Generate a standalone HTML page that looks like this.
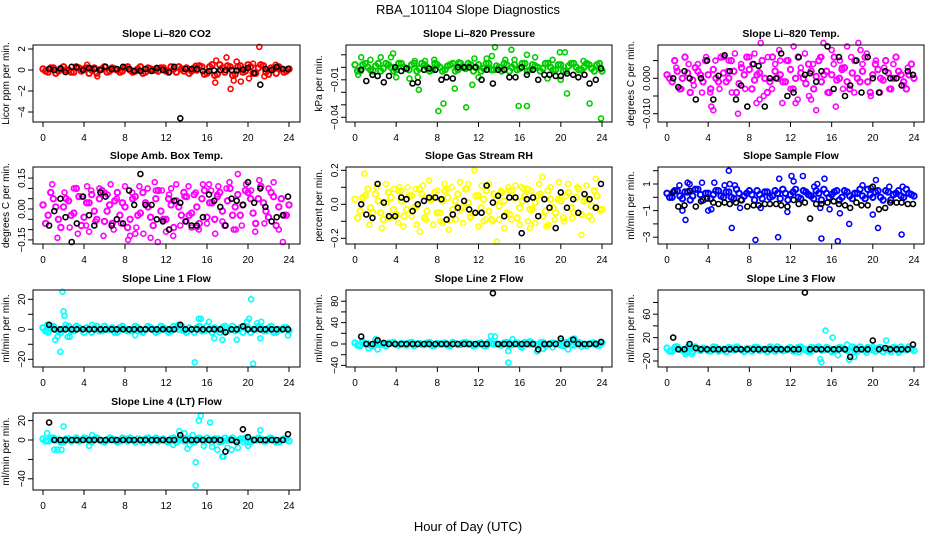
<!DOCTYPE html>
<html><head><meta charset="utf-8"><style>
html,body{margin:0;padding:0;background:#fff;}
svg{display:block;font-family:"Liberation Sans",sans-serif;}
</style></head><body>
<svg id="chart" width="936" height="540" viewBox="0 0 936 540" xmlns="http://www.w3.org/2000/svg">
<rect width="936" height="540" fill="#fff"/>
<text x="468" y="14" font-size="13" text-anchor="middle">RBA_101104  Slope Diagnostics</text>
<text x="468" y="531" font-size="13" text-anchor="middle">Hour of Day (UTC)</text>
</svg>
<script>
const bandHours=[0,0.5,1,1.5,2,2.5,3,3.5,4,4.5,5,5.5,6,6.5,7,7.5,8,8.5,9,9.5,10,10.5,11,11.5,12,12.5,13,13.5,14,14.5,15,15.5,16,16.5,17,17.5,18,18.5,19,19.5,20,20.5,21,21.5,22,22.5,23,23.5,24];
const bandHours2=[0.25,0.75,1.25,1.75,2.25,2.75,3.25,3.75,4.25,4.75,5.25,5.75,6.25,6.75,7.25,7.75,8.25,8.75,9.25,9.75,10.25,10.75,11.25,11.75,12.25,12.75,13.25,13.75,14.25,14.75,15.25,15.75,16.25,16.75,17.25,17.75,18.25,18.75,19.25,19.75,20.25,20.75,21.25,21.75,22.25,22.75,23.25,23.75];
const blackHours=[0.6,1.1,1.7,2.2,2.8,3.3,3.9,4.5,5.0,5.6,6.1,6.7,7.2,7.8,8.4,8.9,9.5,10.0,10.6,11.1,11.7,12.3,12.8,13.4,13.9,14.5,15.0,15.6,16.2,16.7,17.3,17.8,18.4,18.9,19.5,20.0,20.6,21.2,21.7,22.3,22.8,23.4,23.9];
const scatterHours=[0.9,1.4,2.1,2.6,3.0,3.4,3.8,4.2,4.5,4.7,5.1,5.5,5.9,6.3,6.6,6.9,7.2,7.6,8.0,8.3,8.7,9.1,9.4,9.8,10.2,10.5,10.9,11.2,11.6,12.0,12.3,12.7,13.0,13.4,13.8,14.2,14.5,14.9,15.2,15.6,16.0,16.4,16.8,17.1,17.5,17.9,18.2,18.6,19.0,19.4,19.8,20.3,20.7,21.1,21.6,22.0,22.5,23.0,23.4,6.0,9.0,12.5,15.0,17.0,4.3,8.5,11.0,14.0,16.2,18.8];

const co2Band=[0.1,-0.2,0.2,-0.1,0.3,0,-0.2,0.2,0.1,-0.3,0.2,0,0.3,-0.1,0.1,-0.2,0.2,0,-0.1,0.3,-0.2,0.1,0,0.2,-0.1,0.3,-0.2,0.1,0.2,-0.1,0,0.3,-0.3,0.5,-0.4,0.2,0.4,-0.5,0.3,-0.2,0.5,-0.3,0.2,0.4,-0.4,0.1,0.3,-0.2,0.1];
const co2Band2=[-0.1,0.2,-0.3,0.1,0,-0.2,0.3,-0.1,0.2,0,-0.3,0.1,-0.2,0.2,0,-0.1,0.3,-0.2,0.1,-0.3,0.2,0,-0.1,0.2,-0.2,0.1,0.3,-0.1,-0.3,0.2,0.4,-0.4,0.3,-0.5,0.5,-0.2,0.3,-0.4,0.4,-0.1,0.3,-0.3,0.5,-0.2,0.2,-0.3,0.1,-0.1];
const co2OutX=[5.3,4.3,16.8,16.9,17.9,18.3,18.6,18.9,19.3,20.5,21.1,21.6,14.9,20.1,22.7];
const co2OutY=[-0.6,0.5,-1.2,0.9,1.2,-1.8,-1.0,0.8,-1.1,0.6,2.2,-0.6,0.4,-0.8,0.5];
const co2Black=[0.1,0,0.15,-0.2,0.3,0.25,0,0.2,0.1,0,0.3,0.1,0.1,0.3,0.1,-0.1,-0.1,0.1,-0.1,0.2,0,-0.2,0.3,-4.6,0.1,0.1,0.1,-0.1,-0.1,-0.05,0,0,0,-0.05,0.05,0.2,-0.3,-1.4,0.1,0,0.3,0.1,0.1];

const presBand=[0.002,-0.003,0.003,-0.002,0.001,-0.003,0.003,0,-0.002,0.003,-0.001,0.002,-0.003,0.003,0,-0.002,0.002,-0.003,0.001,0.003,-0.002,0,0.003,-0.003,0.002,-0.001,0.003,-0.002,0,0.003,-0.003,0.002,-0.001,0.003,-0.002,0.001,-0.003,0.003,0,-0.002,0.002,-0.003,0.003,0,-0.002,0.003,-0.001,0.002,-0.003];
const presBand2=[-0.003,0.002,0,-0.003,0.003,-0.001,0.002,-0.003,0.003,0,-0.002,0.003,-0.001,0.002,-0.003,0.003,0,-0.002,0.002,-0.003,0.003,-0.001,0.002,0,-0.003,0.003,-0.002,0.001,-0.003,0.002,0,-0.002,0.003,-0.003,0.002,0,-0.001,0.003,-0.002,0.002,-0.003,0.001,0.003,-0.002,0,0.002,-0.003,0.003];
const presOutX=[0.3,0.6,1.5,2.5,3.5,3.7,4.0,5.3,5.8,6.2,6.1,6.8,7.7,8.1,8.6,9.7,10.1,10.8,11.4,11.6,12.0,12.8,13.3,13.6,14.6,15.2,15.5,15.9,16.7,16.7,17.5,18.7,19.2,19.9,20.4,20.6,20.0,22.2,22.8,23.9];
const presOutY=[-0.006,0.008,0.006,0.008,0.008,0.011,-0.008,-0.009,0.005,-0.018,-0.008,0.005,0.006,-0.035,-0.029,-0.017,0.004,-0.032,-0.014,0.007,-0.008,0.007,0.009,0.016,0.006,0.014,0.006,-0.031,-0.031,0.010,0.008,-0.009,0.006,0.012,0.012,-0.021,-0.010,0.005,-0.029,-0.041];
const presBlack=[-0.002,-0.011,-0.006,-0.007,-0.012,-0.007,0.000,-0.003,-0.001,-0.013,-0.012,-0.002,-0.001,-0.002,-0.010,-0.008,-0.009,0.000,0.000,0.000,0.000,-0.010,-0.002,-0.013,-0.002,-0.002,-0.008,-0.008,0.000,-0.006,-0.002,-0.010,-0.006,-0.006,-0.007,-0.007,-0.005,-0.006,-0.008,-0.006,-0.013,-0.010,-0.001];

const tempBand=[0.001,-0.001,0.002,0,0.0015,-0.0005,0.002,-0.001,0.001,0.0025,-0.001,0.0015,0,0.002,-0.0015,0.001,0.0025,-0.0005,0.0015,0,-0.001,0.002,0.001,-0.001,0.0025,0,0.0015,-0.0015,0.002,0.0005,-0.001,0.002,0.001,-0.0005,0.0025,-0.001,0.0015,0,0.002,-0.001,0.001,0.0025,-0.0005,0.0015,0,0.002,-0.001,0.001,0];
const tempBand2=[0,0.005,-0.003,0.006,-0.004,0.003,0.001,0.005,-0.003,0,0.006,-0.001,0.005,-0.004,0.003,0.006,-0.003,0.001,0.005,-0.004,0.006,0,-0.001,0.005,-0.003,0.006,0,0.004,-0.003,0.005,0.001,-0.004,0.006,0,0.003,-0.003,0.005,-0.001,0.006,-0.004,0.004,0,0.005,-0.003,0.006,0.001,-0.003,0.004];
const tempScatter=[0.003,-0.003,0.004,-0.002,0.004,-0.004,0.006,-0.004,-0.009,0.005,-0.003,0.006,0.002,-0.004,0.007,-0.010,0.004,-0.003,0.006,0.004,-0.007,0.010,-0.005,0.006,-0.003,0.004,0.008,-0.007,0.005,-0.003,0.009,-0.006,0.003,0.007,-0.005,0.004,-0.009,0.006,0.010,-0.004,0.008,-0.008,0.005,-0.003,0.009,0.006,-0.004,0.010,0.004,0.007,-0.005,0.005,-0.004,0.003,-0.003,0.004,0.002,-0.002,0.003,0.005,-0.006,-0.007,0.006,0.003,-0.008,0.007,0.005,-0.006,0.004,0.008];
const tempBlack=[0,-0.0025,0.002,0,-0.006,0,0.005,-0.006,0.0007,0.0065,0.002,-0.006,-0.002,-0.008,0.004,0.0035,-0.008,0,0,0.007,-0.005,-0.004,0.006,0.001,0.0014,-0.001,0.002,0.009,-0.003,0.006,-0.005,-0.002,0.005,-0.004,0.006,0,-0.004,0.002,0,0,-0.002,0.002,0.001];

const ambBand=[0.02,-0.03,0.05,-0.05,0.01,0.04,-0.02,0.06,-0.04,0.03,-0.01,0.05,-0.06,0.02,0.04,-0.03,0.01,-0.05,0.06,-0.02,0.03,-0.04,0.05,-0.01,-0.05,0.02,0.04,-0.03,0.06,-0.02,0.01,0.05,-0.04,0.03,0.06,-0.01,0.04,-0.03,0.07,0.02,0.08,-0.02,0.05,0.03,-0.04,0.06,0.01,-0.03,0.02];
const ambBand2=[-0.07,0.08,0.01,-0.09,0.05,-0.03,0.1,-0.08,0.03,0.07,-0.05,0.09,-0.01,-0.07,0.08,0.03,-0.09,0.05,-0.03,0.08,0.01,-0.08,0.09,-0.05,0.05,-0.09,0.01,0.08,-0.03,0.07,-0.07,0.09,0.03,-0.05,0.08,-0.08,0.1,0.01,-0.03,0.09,0.05,-0.07,0.11,-0.01,0.08,-0.08,0.05,-0.03];
const ambScatter=[0.12,-0.14,0.08,-0.09,0.1,-0.12,0.06,-0.08,-0.11,0.09,-0.06,0.1,-0.13,0.07,0.12,-0.1,0.05,-0.07,0.11,-0.15,0.08,-0.09,0.11,-0.12,0.1,-0.14,0.13,-0.16,0.09,-0.11,0.07,-0.13,0.12,-0.08,0.06,0.11,-0.09,0.08,-0.1,0.12,-0.07,0.09,-0.12,0.11,-0.06,0.1,0.13,-0.1,0.17,-0.08,0.12,0.09,-0.11,0.14,-0.07,0.1,0.13,-0.1,-0.16,0.08,-0.12,0.1,-0.09,0.07,0.11,-0.13,0.09,-0.06,0.12,-0.1];
const ambBlack=[-0.08,-0.01,0.05,-0.04,-0.16,-0.07,0.06,-0.03,-0.08,0.08,0.06,-0.08,-0.05,-0.07,0.09,0.02,0.17,0.02,0.02,-0.05,-0.06,-0.1,0.04,0.03,-0.06,-0.08,-0.08,-0.04,0.07,0.04,0.01,-0.08,0.05,0.04,0.02,0.13,0.03,0.1,0.01,-0.06,-0.04,-0.03,0.06];

const rhBand=[0.03,-0.04,0.05,-0.02,0.06,-0.05,0.01,0.04,-0.06,0.02,-0.03,0.05,-0.01,0.06,-0.04,0.03,-0.05,0.02,0.04,-0.03,0.06,-0.02,0.01,-0.05,0.05,0.03,-0.04,0.06,-0.01,0.02,-0.06,0.04,-0.02,0.05,-0.03,0.01,0.06,-0.04,0.03,-0.05,0.02,0.05,-0.02,0.04,-0.06,0.03,-0.01,0.05,-0.03];
const rhBand2=[-0.08,0.04,0.09,-0.05,0.02,-0.09,0.07,-0.03,0.08,-0.07,0.05,-0.02,0.09,-0.08,0.03,0.07,-0.05,0.08,-0.09,0.02,-0.03,0.09,-0.07,0.05,-0.02,0.08,-0.09,0.03,0.07,-0.05,0.08,-0.08,0.02,0.09,-0.03,0.05,-0.07,0.08,-0.02,0.03,-0.08,0.07,-0.05,0.09,0.02,-0.07,0.08,-0.03];
const rhScatter=[0.18,-0.12,0.1,-0.14,0.12,-0.08,0.09,-0.11,0.08,-0.13,0.1,-0.07,0.09,-0.16,0.11,-0.09,0.14,-0.12,0.08,-0.1,0.12,-0.15,0.1,-0.09,0.13,-0.11,0.09,-0.08,0.2,-0.13,0.11,-0.09,0.12,-0.1,-0.22,0.08,-0.14,0.1,-0.09,0.11,-0.12,0.09,-0.1,0.08,-0.11,0.12,0.16,-0.13,0.1,-0.09,0.13,-0.1,0.12,-0.08,0.1,-0.18,0.11,-0.09,0.15,-0.12,0.09,-0.1,0.08,-0.14,0.1,-0.11,0.12,-0.09,0.1,-0.12];
const rhBlack=[0,-0.06,-0.08,0.12,0.01,-0.07,-0.07,0.04,0.03,-0.04,0,0.02,0.04,0.04,0.03,-0.09,-0.06,-0.02,0.02,-0.03,-0.05,-0.05,0.11,0.01,0.05,-0.07,0.04,0.04,-0.17,0.03,0.04,-0.07,0.03,-0.02,-0.14,0.07,-0.02,0.03,-0.05,0.06,0.03,-0.02,0.12];

const flowBand=[0.3,0,0.5,-0.1,0.4,0.1,0.6,-0.2,0.3,0.2,0.5,0,0.4,-0.1,0.3,0.1,0.5,-0.2,0.2,0.4,0,0.5,-0.1,0.3,0.2,0.6,-0.1,0.4,0.1,0.5,-0.2,0.3,0.2,0.5,0,0.4,-0.1,0.3,0.1,0.6,0,0.5,-0.2,0.4,0.2,0.5,0,0.3,0.1];
const flowBand2=[0,0.5,0.1,0.4,-0.2,0.6,0.2,0.3,-0.1,0.5,0.1,0.4,0,0.6,-0.2,0.3,0.2,0.5,-0.1,0.4,0.1,0.3,0.6,-0.2,0.4,0,0.5,0.2,-0.1,0.3,0.6,0,0.4,-0.2,0.5,0.1,0.3,0.6,-0.1,0.2,0.4,0,0.5,-0.2,0.3,0.1,0.6,0.2];
const flowOutX=[1.2,1.5,1.8,2.0,2.2,3.4,4.3,4.6,5.6,6.0,6.1,6.3,6.6,8.6,9.1,10.8,10.9,11.7,12.1,12.3,13.2,14.3,14.6,15.0,15.3,15.8,16.6,16.8,17.7,19.0,19.8,20.0,20.3,20.5,21.6,22.8,22.9,14.9,4.0,7.1];
const flowOutY=[0.9,-1.0,-1.7,1.1,1.0,1.1,-0.9,1.1,0.9,2.0,1.0,-2.3,0.9,-3.2,-0.8,-3.0,1.4,-1.1,1.6,1.2,1.6,0.8,1.0,-3.1,1.4,-0.9,-3.3,-1.2,-2.0,0.9,0.7,-1.3,1.3,-2.3,0.8,-2.8,0.8,-0.8,-1.0,-0.8];
const flowBlack=[0.4,-0.7,-0.6,0.5,-0.7,-0.3,-0.1,-0.4,-0.5,-0.4,-0.5,-0.4,-0.2,-0.7,-0.6,-0.6,-0.5,-0.5,-0.5,-0.6,-0.7,-0.2,-0.5,-0.4,-1.6,-0.5,-0.5,-0.4,-0.3,-0.5,-0.6,-0.8,-0.4,-0.6,-0.6,0.8,-0.9,-0.8,-0.4,-0.4,-0.4,-0.5,-0.5];

const l1Band=[1,-2,2,-1,0,2,-1,1,-2,0,1,-1,2,0,-2,1,0,-1,2,-1,0,1,-2,2,0,-1,1,2,-2,0,1,-1,2,-2,0,1,-1,2,0,-2,1,0,2,-1,1,-2,0,1,-1];
const l1Band2=[-1,2,0,-2,1,-1,2,0,1,-2,2,-1,0,1,-2,2,-1,0,1,-2,2,0,-1,1,-2,2,0,-1,1,-2,2,-1,0,1,-2,2,0,-1,1,2,-2,0,1,-1,2,-2,0,1];
const l1OutX=[0.4,1.2,1.4,1.7,1.9,2.0,2.1,2.2,2.4,2.6,14.8,15.2,15.4,16.2,16.7,17.5,18.9,19.9,20.1,20.3,20.5,20.9,21.2,21.3,23.9,4.8,9.0,13.2];
const l1OutY=[3,-7,-5,-15,25,12,9,3,-5,-5,-22,7,7,5,-6,-7,-7,5,7,20,-23,4,-6,5,-4,3,-4,3];
const l1Black=[3,0,0,0,0,0,0,0,0,0,0,0,0,0,0,0,0,0,0,0,0,0,0,3,0,0,0,0,0,0,0,-2,0,0,2,0,0,0,0,0,0,0,0];

const l2Band=[2,-3,1,-2,3,0,-3,2,-1,1,-2,3,0,-1,2,-3,1,0,-2,3,-1,2,0,-3,1,-2,3,0,-1,2,-3,1,-2,3,0,-1,2,-3,1,0,-2,3,-1,2,0,-3,1,-2,2];
const l2Band2=[-2,3,0,-3,2,-1,1,3,-2,0,2,-3,1,-1,3,-2,0,2,-3,1,-1,3,0,-2,2,-3,1,0,-2,3,-1,2,-3,0,1,-2,3,-1,2,0,-3,1,-2,3,-1,0,2,-2];
const l2OutX=[0.7,1.3,2.0,2.2,13.2,13.6,14.9,14.9,15.3,16.2,17.0,17.7,18.3,19.2,20.0,20.7,21.0,21.3,22.0];
const l2OutY=[6,-8,9,-10,15,14,-13,-35,9,-7,5,-14,-9,-6,6,-10,8,10,-5];
const l2Black=[14,0,0,7,2,0,0,0,0,0,0,0,0,0,0,0,0,0,0,0,0,0,0,95,0,0,0,0,0,0,0,-10,0,0,0,10,0,8,0,0,0,0,4];

const l3Band=[2,-3,4,-1,3,-4,1,2,-2,4,-3,0,3,-1,2,-4,1,3,-2,0,4,-3,1,-1,3,-2,4,0,-3,2,-1,3,-4,1,2,-2,4,-3,0,3,-1,2,-4,1,3,-2,0,4,-2];
const l3Band2=[-3,3,0,-4,2,4,-2,1,-3,3,0,-4,2,4,-1,1,-3,3,0,-4,2,4,-2,1,-3,3,0,-4,2,4,-1,1,-3,3,0,-4,2,4,-2,1,-3,3,0,-4,2,4,-1,1];
const l3OutX=[0.9,1.8,2.1,2.4,12.8,14.3,14.9,15.0,15.4,16.1,16.6,17.5,17.7,18.2,19.4,21.3,22.5,20.0,14.0];
const l3OutY=[5,-8,6,-8,-5,2,-17,-22,32,20,-10,8,-18,-13,-6,15,-6,4,4];
const l3Black=[20,0,0,9,2,0,0,0,0,0,0,0,0,0,0,0,0,0,0,0,0,0,0,97,0,0,0,0,0,0,0,-13,0,0,0,15,0,2,0,0,0,0,8];

const l4Band=[1,-1,2,0,-2,1,0,-1,2,-1,1,0,-2,2,0,-1,1,2,-2,0,1,-1,2,0,-1,1,-2,2,0,-1,1,0,2,-2,1,-1,0,2,-1,1,-2,0,2,-1,1,0,-2,1,-1];
const l4Band2=[-1,2,0,-2,1,-1,2,0,1,-2,2,-1,0,1,-2,2,-1,0,1,-2,2,0,-1,1,-2,2,0,-1,1,-2,2,-1,0,1,-2,2,0,-1,1,2,-2,0,1,-1,2,-2,0,1];
const l4OutX=[0.4,1.1,1.4,1.8,2.0,4.5,4.8,12.7,13.3,13.8,14.1,14.6,14.9,14.9,15.2,15.4,15.7,16.3,16.5,17.0,17.5,17.6,18.0,18.4,19.0,19.5,20.0,21.2,14.3];
const l4OutY=[7,-10,-10,-10,14,-6,5,-5,9,7,-9,5,-23,-47,20,25,-6,18,-7,-10,-17,-17,-8,-10,-8,-2,-6,10,-5];
const l4Black=[18,0,0,0,0,0,0,0,0,0,0,0,0,0,0,0,0,0,0,0,0,0,0,5,0,0,0,0,0,0,0,-12,0,-2,11,3,0,0,0,0,0,0,6];

const xTicks=[0,4,8,12,16,20,24];

const svg=document.getElementById('chart');
const NS='http://www.w3.org/2000/svg';
function mk(tag,attrs,parent){const e=document.createElementNS(NS,tag);for(const k in attrs)e.setAttribute(k,attrs[k]);parent.appendChild(e);return e;}

const cols=[{l:33,r:300,x0:43,x24:289},{l:346,r:612,x0:355,x24:602},{l:658,r:924,x0:667,x24:914}];
const rows=[45,167,290,413];
const H=77;

const panels=[
 {name:'co2',title:'Slope Li\u2013820 CO2',ylab:'Licor ppm per min.',col:'#ff0000',c:0,r:0,y0:70,ppu:10.5,ticks:[-4,-2,0,2],labs:[[-4,'\u22124'],[-2,'\u22122'],[0,'0'],[2,'2']],band:co2Band,band2:co2Band2,ox:co2OutX,oy:co2OutY,black:co2Black},
 {name:'pressure',title:'Slope Li\u2013820 Pressure',ylab:'kPa per min.',col:'#00cc00',c:1,r:0,y0:67.3,ppu:1250,ticks:[0.01,0,-0.01,-0.02,-0.03,-0.04],labs:[[-0.01,'\u22120.01'],[-0.04,'\u22120.04']],band:presBand,band2:presBand2,ox:presOutX,oy:presOutY,black:presBlack},
 {name:'temp',title:'Slope Li\u2013820 Temp.',ylab:'degrees C per min.',col:'#ff00ff',c:2,r:0,y0:78.3,ppu:3540,ticks:[0.005,0,-0.005,-0.01],labs:[[0,'0.000'],[-0.01,'\u22120.010']],band:tempBand,band2:tempBand2,ox:scatterHours,oy:tempScatter,black:tempBlack},
 {name:'amb-box-temp',title:'Slope Amb. Box Temp.',ylab:'degrees C per min.',col:'#ff00ff',c:0,r:1,y0:209,ppu:206,ticks:[0.15,0.1,0.05,0,-0.05,-0.1,-0.15],labs:[[0.15,'0.15'],[0,'0.00'],[-0.15,'\u22120.15']],band:ambBand,band2:ambBand2,ox:scatterHours,oy:ambScatter,black:ambBlack},
 {name:'gas-stream-rh',title:'Slope Gas Stream RH',ylab:'percent per min.',col:'#ffff00',c:1,r:1,y0:204.3,ppu:170,ticks:[0.2,0.1,0,-0.1,-0.2],labs:[[0.2,'0.2'],[0,'0.0'],[-0.2,'\u22120.2']],band:rhBand,band2:rhBand2,ox:scatterHours,oy:rhScatter,black:rhBlack},
 {name:'sample-flow',title:'Slope Sample Flow',ylab:'ml/min per min.',col:'#0000ff',c:2,r:1,y0:197.3,ppu:13.3,ticks:[2,1,0,-1,-2,-3],labs:[[1,'1'],[-1,'\u22121'],[-3,'\u22123']],band:flowBand,band2:flowBand2,ox:flowOutX,oy:flowOutY,black:flowBlack},
 {name:'line1-flow',title:'Slope Line 1 Flow',ylab:'ml/min per min.',col:'#00ffff',c:0,r:2,y0:329.3,ppu:1.5,ticks:[20,10,0,-10,-20],labs:[[20,'20'],[0,'0'],[-20,'\u221220']],band:l1Band,band2:l1Band2,ox:l1OutX,oy:l1OutY,black:l1Black},
 {name:'line2-flow',title:'Slope Line 2 Flow',ylab:'ml/min per min.',col:'#00ffff',c:1,r:2,y0:344,ppu:0.535,ticks:[80,60,40,20,0,-20,-40],labs:[[80,'80'],[40,'40'],[0,'0'],[-40,'\u221240']],band:l2Band,band2:l2Band2,ox:l2OutX,oy:l2OutY,black:l2Black},
 {name:'line3-flow',title:'Slope Line 3 Flow',ylab:'ml/min per min.',col:'#00ffff',c:2,r:2,y0:349.3,ppu:0.585,ticks:[80,60,40,20,0,-20],labs:[[60,'60'],[20,'20'],[-20,'\u221220']],band:l3Band,band2:l3Band2,ox:l3OutX,oy:l3OutY,black:l3Black},
 {name:'line4-flow',title:'Slope Line 4 (LT) Flow',ylab:'ml/min per min.',col:'#00ffff',c:0,r:3,y0:440,ppu:0.97,ticks:[20,0,-20,-40],labs:[[20,'20'],[0,'0'],[-40,'\u221240']],band:l4Band,band2:l4Band2,ox:l4OutX,oy:l4OutY,black:l4Black}
];

panels.forEach(p=>{
  const C=cols[p.c], top=rows[p.r], bot=top+H;
  const xs=h=>C.x0+(C.x24-C.x0)*h/24;
  const ys=v=>p.y0-p.ppu*v;
  const g=mk('g',{},svg);
  
  
  const t=mk('text',{x:(C.l+C.r)/2,y:top-8,'font-size':'10.5','font-weight':'bold','text-anchor':'middle'},g);
  t.textContent=p.title;
  
  
  const yl=mk('text',{transform:`translate(${C.l-24},${(top+bot)/2}) rotate(-90)`,'font-size':'10','text-anchor':'middle'},g);
  yl.textContent=p.ylab;
  
  
  const pts=mk('g',{fill:'none'},g);
  
  
  function dot(h,v,col,r,sw){
    const c=mk('circle',{cx:xs(h).toFixed(1),cy:ys(v).toFixed(1),r:r,stroke:col,'stroke-width':sw},pts);
    
    
  }
  p.band.forEach((v,i)=>{ if(i<bandHours.length) dot(bandHours[i],v,p.col,2.7,2); });
  p.band2.forEach((v,i)=>{ if(i<bandHours2.length) dot(bandHours2[i],v,p.col,2.7,2); });
  for(let i=0;i<Math.min(p.ox.length,p.oy.length);i++) dot(p.ox[i],p.oy[i],p.col,2.5,1.6);
  p.black.forEach((v,i)=>{ if(i<blackHours.length) dot(blackHours[i],v,'#000',2.5,1.6); });
  const box=mk('rect',{x:C.l,y:top,width:C.r-C.l,height:H,fill:'none',stroke:'#000','stroke-width':'1'},g);
  
  
  const ax=mk('g',{stroke:'#000','stroke-width':'1'},g);
  
  
  mk('line',{x1:xs(0),x2:xs(24),y1:bot,y2:bot},ax);
  xTicks.forEach(h=>{
    mk('line',{x1:xs(h),x2:xs(h),y1:bot,y2:bot+5},ax);
    const tl=mk('text',{x:xs(h),y:bot+19,'font-size':'10','text-anchor':'middle',stroke:'none'},g);
    tl.textContent=h;
    
    
  });
  p.ticks.forEach(v=>{ mk('line',{x1:C.l-5,x2:C.l,y1:ys(v),y2:ys(v)},ax); });
  p.labs.forEach(([v,s])=>{
    const yt=mk('text',{transform:`translate(${C.l-8},${ys(v)}) rotate(-90)`,'font-size':'10','text-anchor':'middle'},g);
    yt.textContent=s;
    
    
  });
});
</script>
</body></html>
